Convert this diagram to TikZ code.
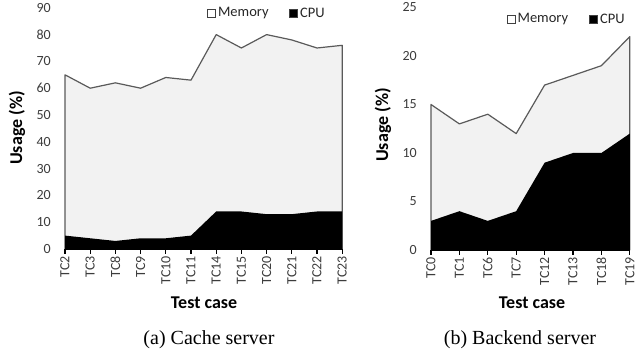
\documentclass[tikz,border=0pt]{standalone}
\usepackage{fontspec}
\setmainfont{Liberation Serif}
\newfontfamily\chartfont{Carlito}
\usetikzlibrary{positioning}
\definecolor{memfill}{HTML}{F2F2F2}
\definecolor{memline}{HTML}{5A5A5A}
\definecolor{ticktext}{HTML}{3C3C3C}
\tikzset{
  ytick/.style={font=\chartfont\fontsize{14}{14}\selectfont, text=ticktext, anchor=east, xshift=-13pt, inner sep=1pt},
  xtick/.style={font=\chartfont\fontsize{14}{14}\selectfont, text=ticktext, yshift=-6pt, rotate=90, anchor=east, inner sep=1pt},
  axtitle/.style={font=\chartfont\bfseries\fontsize{18}{18}\selectfont, text=black, inner sep=0pt},
  legbox/.style={draw=black!75, line width=0.8pt, minimum size=8pt, inner sep=0pt},
  legtext/.style={font=\chartfont\fontsize{14.5}{15}\selectfont, text=black!85, inner sep=0pt},
  caption/.style={font=\fontsize{20}{20}\selectfont, inner sep=0pt},
  memarea/.style={fill=memfill, draw=memline, line width=1.2pt, line join=round},
  axisline/.style={line width=1.5pt}
}
\begin{document}
\begin{tikzpicture}[x=1pt,y=-1pt]
\useasboundingbox (0,0) rectangle (638,352);

% (a) cache server
\begin{scope}[xshift=65pt, yshift=-249pt, x=25.2pt, y=2.68pt]
\filldraw[memarea] (0,0) -- (0,65) -- (1,60) -- (2,62) -- (3,60) -- (4,64) -- (5,63)
  -- (6,80) -- (7,75) -- (8,80) -- (9,78) -- (10,75) -- (11,76) -- (11,0) -- cycle;
\fill[black] (0,0) -- (0,5) -- (1,4) -- (2,3) -- (3,4) -- (4,4) -- (5,5)
  -- (6,14) -- (7,14) -- (8,13) -- (9,13) -- (10,14) -- (11,14) -- (11,0) -- cycle;
\draw[axisline] (0,0) -- (11,0);
\foreach \v in {0,10,...,90}
  \node[ytick] (ya\v) at (0,\v) {\v};
\foreach \n [count=\i from 0] in {TC2,TC3,TC8,TC9,TC10,TC11,TC14,TC15,TC20,TC21,TC22,TC23} {
  \draw[line width=1.2pt] (\i,0) -- ++(0pt,-5pt);
  \node[xtick] (xa\i) at (\i,0) {\n};
}
\end{scope}
\node[legbox, fill=white] (memboxA) at (211.5,13) {};
\node[legtext, right=2pt of memboxA] (memtextA) {Memory};
\node[legbox, fill=black] (cpuboxA) at (293.5,13) {};
\node[legtext, right=2pt of cpuboxA] (cputextA) {CPU};
\node[axtitle, rotate=90] (usageA) at (17,128) {Usage (\%)};
\node[axtitle] (caseA) at (204,303) {Test case};
\node[caption] (capA) at (209,340) {(a) Cache server};

% (b) backend server
\begin{scope}[xshift=431pt, yshift=-250pt, x=28.4pt, y=9.7pt]
\filldraw[memarea] (0,0) -- (0,15) -- (1,13) -- (2,14) -- (3,12) -- (4,17) -- (5,18)
  -- (6,19) -- (7,22) -- (7,0) -- cycle;
\fill[black] (0,0) -- (0,3) -- (1,4) -- (2,3) -- (3,4) -- (4,9) -- (5,10)
  -- (6,10) -- (7,12) -- (7,0) -- cycle;
\draw[axisline] (0,0) -- (7,0);
\foreach \v in {0,5,...,25}
  \node[ytick] (yb\v) at (0,\v) {\v};
\foreach \n [count=\i from 0] in {TC0,TC1,TC6,TC7,TC12,TC13,TC18,TC19} {
  \draw[line width=1.2pt] (\i,0) -- ++(0pt,-5pt);
  \node[xtick] (xb\i) at (\i,0) {\n};
}
\end{scope}
\node[legbox, fill=white] (memboxB) at (511,19) {};
\node[legtext, right=2pt of memboxB] (memtextB) {Memory};
\node[legbox, fill=black] (cpuboxB) at (593.5,19) {};
\node[legtext, right=2pt of cpuboxB] (cputextB) {CPU};
\node[axtitle, rotate=90] (usageB) at (383,125) {Usage (\%)};
\node[axtitle] (caseB) at (532,303) {Test case};
\node[caption] (capB) at (520,340) {(b) Backend server};
\end{tikzpicture}
\end{document}
